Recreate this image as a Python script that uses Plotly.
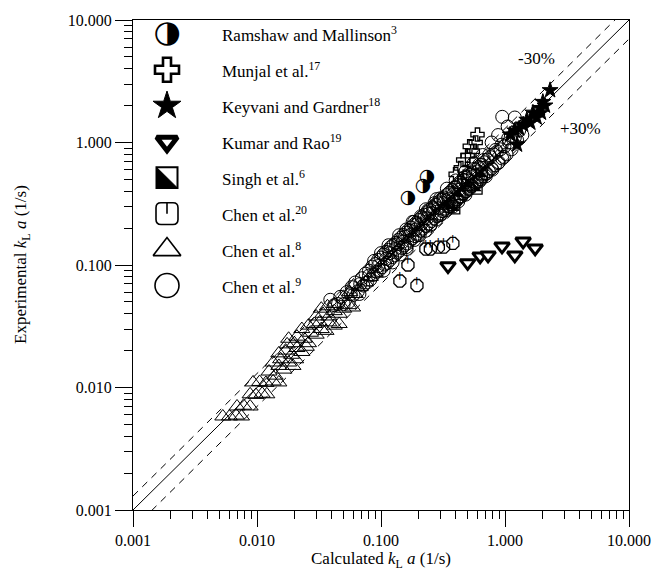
import plotly.graph_objects as go

# ---------------- data (kLa, 1/s) ----------------
# Chen et al.8 -- open triangles
chen8_x = [0.0053, 0.0060, 0.0068, 0.0075, 0.0069, 0.0078, 0.0088, 0.0088, 0.0098, 0.0110,
           0.0120, 0.0093, 0.0105, 0.0118, 0.0135, 0.0150, 0.0125, 0.0140, 0.0150, 0.0165,
           0.0180, 0.0195, 0.0135, 0.0155, 0.0205, 0.0150, 0.0170, 0.0190, 0.0210, 0.0230,
           0.0250, 0.0175, 0.0200, 0.0260, 0.0180, 0.0210, 0.0240, 0.0270, 0.0300, 0.0330,
           0.0360, 0.0420, 0.0460, 0.0230, 0.0260, 0.0290, 0.0320, 0.0380, 0.0300, 0.0340,
           0.0380, 0.0420, 0.0460, 0.0500, 0.0330, 0.0370, 0.0420, 0.0550, 0.0590, 0.0500,
           0.0560, 0.0620, 0.0680, 0.0750, 0.0820, 0.0900, 0.0600]
chen8_y = [0.0058, 0.0058, 0.0059, 0.0058, 0.0070, 0.0071, 0.0070, 0.0088, 0.0087, 0.0089,
           0.0088, 0.0110, 0.0111, 0.0109, 0.0112, 0.0110, 0.0135, 0.0125, 0.0150, 0.0140,
           0.0160, 0.0150, 0.0160, 0.0170, 0.0170, 0.0190, 0.0200, 0.0185, 0.0210, 0.0195,
           0.0215, 0.0225, 0.0230, 0.0230, 0.0250, 0.0260, 0.0250, 0.0280, 0.0270, 0.0300,
           0.0290, 0.0320, 0.0330, 0.0300, 0.0320, 0.0330, 0.0340, 0.0340, 0.0380, 0.0400,
           0.0380, 0.0420, 0.0400, 0.0440, 0.0440, 0.0460, 0.0480, 0.0470, 0.0450, 0.0550,
           0.0600, 0.0580, 0.0660, 0.0720, 0.0800, 0.0850, 0.0680]

# Chen et al.9 -- open circles
chen9_x = [0.039, 0.042, 0.045, 0.047, 0.050, 0.053, 0.055, 0.058, 0.060, 0.062,
           0.065, 0.067, 0.070, 0.072, 0.075, 0.077, 0.080, 0.082, 0.085, 0.087,
           0.090, 0.092, 0.095, 0.097, 0.100, 0.102, 0.105, 0.107, 0.110, 0.112,
           0.115, 0.118, 0.120, 0.123, 0.126, 0.129, 0.132, 0.135, 0.138, 0.141,
           0.145, 0.148, 0.152, 0.155, 0.159, 0.163, 0.167, 0.171, 0.175, 0.179,
           0.184, 0.188, 0.193, 0.198, 0.203, 0.208, 0.213, 0.218, 0.224, 0.230,
           0.236, 0.242, 0.248, 0.254, 0.261, 0.268, 0.275, 0.282, 0.289, 0.297,
           0.305, 0.313, 0.321, 0.330, 0.339, 0.348, 0.357, 0.367, 0.377, 0.387,
           0.398, 0.409, 0.420, 0.431, 0.443, 0.455, 0.467, 0.480, 0.493, 0.507,
           0.521, 0.535, 0.550, 0.565, 0.580, 0.596, 0.612, 0.629, 0.646, 0.664,
           0.682, 0.700, 0.720, 0.740, 0.760, 0.780, 0.805, 0.830, 0.860, 0.890,
           0.920, 0.950, 0.990, 1.030, 1.080, 1.130, 1.200, 0.950, 1.200, 1.050,
           1.300, 1.380, 1.250, 0.880, 0.780, 0.130, 0.150, 0.170, 0.190, 0.210,
           0.235, 0.260, 0.290, 0.320, 0.350, 0.385, 0.420, 0.460, 0.500, 0.550,
           0.600, 0.650, 0.110, 0.095, 0.080, 0.068, 0.057, 0.160, 0.200, 0.250,
           0.300, 0.360, 0.440, 0.520, 0.140, 0.180, 0.230, 0.280, 0.340, 0.400,
           0.480, 0.560, 0.660, 0.115, 0.100, 0.088,
           0.105, 0.118, 0.124, 0.137, 0.143, 0.156, 0.161, 0.173, 0.186, 0.196,
           0.205, 0.222, 0.228, 0.244, 0.252, 0.266, 0.279, 0.294, 0.309, 0.318,
           0.335, 0.352, 0.371, 0.392, 0.405, 0.428, 0.446, 0.472, 0.488, 0.515,
           0.540, 0.568, 0.590, 0.620, 0.640, 0.675, 0.710, 0.745, 0.790, 0.840,
           0.880, 0.940, 0.980, 1.060, 0.300, 0.270, 0.240, 0.210, 0.185, 0.160,
           0.420, 0.480, 0.380, 0.620, 0.700]
chen9_y = [0.052, 0.047, 0.048, 0.055, 0.048, 0.060, 0.050, 0.066, 0.057, 0.072,
           0.061, 0.058, 0.078, 0.068, 0.085, 0.072, 0.090, 0.076, 0.097, 0.083,
           0.102, 0.088, 0.110, 0.091, 0.115, 0.096, 0.122, 0.101, 0.128, 0.104,
           0.133, 0.110, 0.140, 0.116, 0.146, 0.120, 0.152, 0.126, 0.160, 0.131,
           0.167, 0.138, 0.176, 0.145, 0.184, 0.150, 0.193, 0.158, 0.202, 0.165,
           0.212, 0.172, 0.222, 0.180, 0.233, 0.190, 0.245, 0.198, 0.257, 0.208,
           0.270, 0.218, 0.283, 0.228, 0.296, 0.240, 0.310, 0.250, 0.325, 0.262,
           0.340, 0.275, 0.356, 0.288, 0.372, 0.300, 0.390, 0.315, 0.410, 0.330,
           0.430, 0.345, 0.450, 0.362, 0.472, 0.380, 0.495, 0.398, 0.520, 0.418,
           0.545, 0.438, 0.570, 0.460, 0.600, 0.482, 0.628, 0.505, 0.660, 0.530,
           0.690, 0.555, 0.725, 0.585, 0.760, 0.615, 0.800, 0.650, 0.840, 0.690,
           0.880, 0.740, 0.930, 0.800, 1.000, 0.880, 1.100, 1.620, 1.600, 1.350,
           1.250, 1.150, 1.050, 1.150, 1.000, 0.135, 0.155, 0.175, 0.195, 0.215,
           0.240, 0.265, 0.290, 0.320, 0.345, 0.380, 0.410, 0.450, 0.490, 0.530,
           0.580, 0.620, 0.112, 0.098, 0.082, 0.070, 0.058, 0.140, 0.175, 0.210,
           0.255, 0.300, 0.360, 0.420, 0.175, 0.225, 0.285, 0.345, 0.420, 0.490,
           0.580, 0.680, 0.790, 0.145, 0.125, 0.108,
           0.090, 0.125, 0.105, 0.148, 0.122, 0.170, 0.135, 0.190, 0.160, 0.215,
           0.175, 0.240, 0.190, 0.262, 0.215, 0.290, 0.235, 0.318, 0.262, 0.345,
           0.280, 0.385, 0.312, 0.425, 0.335, 0.470, 0.365, 0.515, 0.400, 0.560,
           0.445, 0.610, 0.470, 0.660, 0.500, 0.720, 0.560, 0.790, 0.600, 0.870,
           0.680, 0.960, 0.760, 1.080, 0.350, 0.320, 0.280, 0.250, 0.225, 0.195,
           0.330, 0.375, 0.300, 0.480, 0.530]

# Singh et al.6 -- half-filled squares
singh_x = [0.43, 0.59, 0.39, 0.35, 0.50, 0.65]
singh_y = [0.38, 0.42, 0.29, 0.30, 0.45, 0.55]

# Munjal et al.17 -- open crosses
munjal_x = [0.60, 0.52, 0.46, 0.44, 0.55, 0.50, 0.40, 0.58]
munjal_y = [1.16, 0.93, 0.72, 0.62, 0.85, 0.78, 0.55, 1.00]

# Keyvani and Gardner18 -- stars
keyvani_x = [2.31, 2.02, 1.91, 1.68, 1.50, 1.40, 1.10, 1.25, 1.60, 1.80, 1.30, 2.10, 1.95, 1.20]
keyvani_y = [2.67, 2.14, 1.91, 1.75, 1.53, 1.40, 1.16, 0.96, 1.45, 1.60, 1.30, 2.00, 1.75, 1.25]

# Kumar and Rao19 -- down triangles
kumar_x = [0.347, 0.50, 0.63, 0.73, 0.946, 1.20, 1.40, 1.75]
kumar_y = [0.098, 0.104, 0.118, 0.120, 0.142, 0.120, 0.156, 0.137]

# Chen et al.20
chen20_x = [0.23, 0.25, 0.29, 0.32, 0.38, 0.165, 0.142, 0.195]
chen20_y = [0.135, 0.135, 0.140, 0.140, 0.150, 0.100, 0.074, 0.068]

# Ramshaw and Mallinson3 -- half-filled circles
ramshaw_x = [0.235, 0.218, 0.165]
ramshaw_y = [0.52, 0.44, 0.35]

# parity band: +/-30 %
band = 0.30
axis_x = [0.001, 10.0]

legend_labels = ["Ramshaw and Mallinson<sup>3</sup>", "Munjal et al.<sup>17</sup>",
                 "Keyvani and Gardner<sup>18</sup>", "Kumar and Rao<sup>19</sup>",
                 "Singh et al.<sup>6</sup>", "Chen et al.<sup>20</sup>",
                 "Chen et al.<sup>8</sup>", "Chen et al.<sup>9</sup>"]

SERIF = "Liberation Serif, Times New Roman, serif"
BLACK = "black"

# plot box in pixels
L, R, T, B = 133, 40, 14, 67
PW = 669 - L - R
PH = 577 - T - B

fig = go.Figure()

# reference lines
fig.add_trace(go.Scatter(x=axis_x, y=axis_x, mode="lines",
                         line=dict(color=BLACK, width=1), hoverinfo="skip"))
fig.add_trace(go.Scatter(x=axis_x, y=[v * (1 + band) for v in axis_x], mode="lines",
                         line=dict(color=BLACK, width=1, dash="7px,6px"), hoverinfo="skip"))
fig.add_trace(go.Scatter(x=axis_x, y=[v * (1 - band) for v in axis_x], mode="lines",
                         line=dict(color=BLACK, width=1, dash="7px,6px"), hoverinfo="skip"))


def markers(x, y, symbol, size, color=BLACK, lw=1.0, lc=BLACK, xa="x", ya="y"):
    fig.add_trace(go.Scatter(x=x, y=y, mode="markers", xaxis=xa, yaxis=ya,
                             marker=dict(symbol=symbol, size=size, color=color,
                                         line=dict(color=lc, width=lw))))


def glyphs(x, y, ch, size, family="DejaVu Sans", xa="x", ya="y"):
    fig.add_trace(go.Scatter(x=x, y=y, mode="text", xaxis=xa, yaxis=ya,
                             text=[ch] * len(x), textposition="middle center",
                             textfont=dict(family=family, size=size, color=BLACK)))


# data points
markers(chen8_x, chen8_y, "triangle-up-open", 14)
markers(chen9_x, chen9_y, "circle-open", 13)
markers(singh_x, singh_y, "square-open", 11, lw=1.3)
markers(singh_x, singh_y, "triangle-sw", 9, lw=0)
markers(munjal_x, munjal_y, "cross-open", 11, lw=1.3)
markers(keyvani_x, keyvani_y, "star", 12)
markers(kumar_x, kumar_y, "triangle-down", 13, color="white", lw=3)
markers(chen20_x, chen20_y, "octagon-open", 13, lw=1.3)
glyphs(chen20_x, chen20_y, "\u2575", 13, family="DejaVu Sans Mono")
glyphs(ramshaw_x, ramshaw_y, "\u25D1", 19)

# legend block, on an overlay axis measured in pixels from the plot's top-left
LEG_X = 34
LAB_X = 87
ROW0 = 14
ROW_DY = 36.4
rows = [ROW0 + i * ROW_DY for i in range(len(legend_labels))]

glyphs([LEG_X], [rows[0]], "\u25D1", 31, xa="x2", ya="y2")
markers([LEG_X], [rows[1]], "cross-open", 20, lw=2.6, xa="x2", ya="y2")
markers([LEG_X], [rows[2]], "star", 21, xa="x2", ya="y2")
markers([LEG_X], [rows[3]], "triangle-down", 18, color="white", lw=5, xa="x2", ya="y2")
markers([LEG_X], [rows[6]], "triangle-up-open", 24, lw=1.6, xa="x2", ya="y2")
markers([LEG_X], [rows[7]], "circle-open", 24, lw=1.6, xa="x2", ya="y2")

shapes = []
# Singh legend: square with lower-left half black
h = 10.5
y4 = rows[4]
shapes.append(dict(type="path", xref="x2", yref="y2",
                   path=f"M{LEG_X - h},{y4 - h} L{LEG_X - h},{y4 + h} L{LEG_X + h},{y4 + h} Z",
                   fillcolor=BLACK, line=dict(color=BLACK, width=1)))
shapes.append(dict(type="rect", xref="x2", yref="y2", x0=LEG_X - h, x1=LEG_X + h,
                   y0=y4 - h, y1=y4 + h, line=dict(color=BLACK, width=2)))
# Chen et al.20 legend: rounded square with a stem from the top edge to the centre
h, r = 11, 5
y5 = rows[5]
x0, x1, ya0, ya1 = LEG_X - h, LEG_X + h, y5 - h, y5 + h
rounded = (f"M{x0 + r},{ya0} L{x1 - r},{ya0} Q{x1},{ya0} {x1},{ya0 + r} "
           f"L{x1},{ya1 - r} Q{x1},{ya1} {x1 - r},{ya1} L{x0 + r},{ya1} "
           f"Q{x0},{ya1} {x0},{ya1 - r} L{x0},{ya0 + r} Q{x0},{ya0} {x0 + r},{ya0} Z")
shapes.append(dict(type="path", xref="x2", yref="y2", path=rounded,
                   line=dict(color=BLACK, width=1.6)))
shapes.append(dict(type="line", xref="x2", yref="y2", x0=LEG_X, x1=LEG_X,
                   y0=ya0, y1=y5, line=dict(color=BLACK, width=1.6)))

annotations = []
for lab, ry in zip(legend_labels, rows):
    annotations.append(dict(x=LAB_X, y=ry, xref="x2", yref="y2", text=lab,
                            showarrow=False, xanchor="left", yanchor="middle",
                            font=dict(family=SERIF, size=17, color=BLACK)))

# band labels (log10 coordinates on the log axes)
annotations.append(dict(x=0.258, y=0.685, xref="x", yref="y", text="-30%", showarrow=False,
                        font=dict(family=SERIF, size=17, color=BLACK)))
annotations.append(dict(x=0.605, y=0.113, xref="x", yref="y", text="+30%", showarrow=False,
                        font=dict(family=SERIF, size=17, color=BLACK)))

# axis titles
annotations.append(dict(x=0.5, y=-(561 - (T + PH)) / PH, xref="paper", yref="paper",
                        text="Calculated <i>k</i><sub>L</sub> <i>a</i> (1/s)",
                        showarrow=False, xanchor="center", yanchor="middle",
                        font=dict(family=SERIF, size=17, color=BLACK)))
annotations.append(dict(x=-(L - 22) / PW, y=0.5, xref="paper", yref="paper",
                        text="Experimental <i>k</i><sub>L</sub> <i>a</i> (1/s)",
                        textangle=-90, showarrow=False, xanchor="center", yanchor="middle",
                        font=dict(family=SERIF, size=17, color=BLACK)))

major = [0.001, 0.01, 0.1, 1.0, 10.0]
major_txt = ["0.001", "0.010", "0.100", "1.000", "10.000"]
minor = [k * m for m in (0.001, 0.01, 0.1, 1.0) for k in range(2, 10)]


def log_axis(ticklen):
    return dict(type="log", range=[-3, 1], tickvals=major, ticktext=major_txt,
                ticks="outside", ticklen=ticklen, tickwidth=1, tickcolor=BLACK,
                minor=dict(tickvals=minor, ticks="outside", ticklen=8,
                           tickwidth=1, tickcolor=BLACK, showgrid=False),
                showline=True, linecolor=BLACK, linewidth=1, mirror=True,
                showgrid=False, zeroline=False,
                tickfont=dict(family=SERIF, size=16, color=BLACK))


fig.update_layout(
    width=669, height=577,
    margin=dict(l=L, r=R, t=T, b=B),
    paper_bgcolor="white", plot_bgcolor="white",
    showlegend=False,
    xaxis=log_axis(16),
    yaxis=log_axis(17),
    xaxis2=dict(overlaying="x", range=[0, PW], visible=False, fixedrange=True),
    yaxis2=dict(overlaying="y", range=[PH, 0], visible=False, fixedrange=True),
    shapes=shapes,
    annotations=annotations,
)

fig.write_html("out.html")
